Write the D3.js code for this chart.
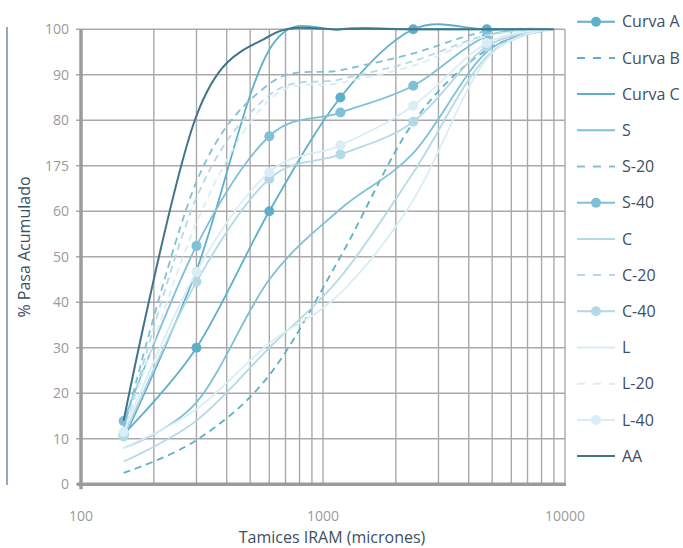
<!DOCTYPE html>
<html>
<head>
<meta charset="utf-8">
<script src="https://cdn.jsdelivr.net/npm/d3@7"></script>
<style>
    body { margin: 0; background: #fff; }
    svg { display: block; font-family: "Open Sans", sans-serif; }
</style>
</head>
<body>
<svg id="chart" width="683" height="548"></svg>
<script>
// sieve openings (microns) and % passing for each curve
var sieves = [150, 300, 600, 1180, 2360, 4750, 9000];

var curvaA = [11, 30, 60, 85, 100, 100, 100];
var curvaB = [2.5, 9.7, 24, 50, 79.5, 95.5, 100];
var curvaC = [10, 47, 95.5, 100, 100, 100, 100];
var arenaS = [8, 18, 45, 60.5, 72.8, 95, 100];
var arenaS20 = [12, 66.5, 88, 91, 94.7, 99.6, 100];
var arenaS40 = [13.9, 52.4, 76.5, 81.7, 87.6, 98.5, 100];
var arenaC = [5, 14, 30, 45.5, 68.5, 94, 100];
var arenaC20 = [11, 63, 85.5, 89, 93, 98.7, 100];
var arenaC40 = [10.5, 44.5, 67.1, 72.5, 79.7, 96.2, 100];
var arenaL = [8, 16.5, 31, 42, 62.5, 93.5, 100];
var arenaL20 = [11, 57.5, 84.5, 88.2, 92, 98.5, 100];
var arenaL40 = [11.5, 46.7, 68.6, 74.5, 83.2, 97, 100];
var arenaAA = [14, 81, 98.5, 100, 100, 100, 100];

var seriesNames = ["Curva A", "Curva B", "Curva C", "S", "S-20", "S-40", "C", "C-20", "C-40", "L", "L-20", "L-40", "AA"];
var seriesValues = [curvaA, curvaB, curvaC, arenaS, arenaS20, arenaS40, arenaC, arenaC20, arenaC40, arenaL, arenaL20, arenaL40, arenaAA];

var yTicks = [0, 10, 20, 30, 40, 50, 60, 70, 80, 90, 100];
var yTickLabels = ["0", "10", "20", "30", "40", "50", "60", "175", "80", "90", "100"];
var xTickLabels = [100, 1000, 10000];

// look of each series, same order as seriesNames
var colors = ["#5fafca", "#5fafca", "#5fafca", "#80c0d6", "#80c0d6", "#80c0d6",
    "#b3d9e7", "#b3d9e7", "#b3d9e7", "#d9edf4", "#d9edf4", "#d9edf4", "#407488"];
var dashed = [false, true, false, false, true, false, false, true, false, false, true, false, false];
var marked = [true, false, false, false, false, true, false, false, true, false, false, true, false];

var series = seriesNames.map(function(name, i) {
    return {
        name: name,
        color: colors[i],
        dashed: dashed[i],
        marked: marked[i],
        points: sieves.map((s, j) => ({size: s, pct: seriesValues[i][j]}))
    };
});

var svg = d3.select("#chart");
var plotLeft = 81, plotRight = 565, plotTop = 29.3, plotBottom = 484.3;

var x = d3.scaleLog().domain([100, 10000]).range([plotLeft, plotRight]);
var y = d3.scaleLinear().domain([0, 100]).range([plotBottom, plotTop]);

var textDark = "#3d4f63";
var gridColor = "#a9a9a9";

// decorative line on the far left
svg.append("line")
    .attr("x1", 7).attr("x2", 7)
    .attr("y1", 27).attr("y2", 485)
    .attr("stroke", "#8fa9c0")
    .attr("stroke-width", 2);

var grid = svg.append("g").attr("class", "grid");

grid.selectAll("line.v").data(x.ticks()).enter().append("line")
    .attr("class", "v")
    .attr("x1", d => x(d)).attr("x2", d => x(d))
    .attr("y1", plotTop).attr("y2", plotBottom)
    .attr("stroke", gridColor)
    .attr("stroke-width", 1.4);

grid.selectAll("line.h").data(yTicks).enter().append("line")
    .attr("class", "h")
    .attr("x1", plotLeft - 5).attr("x2", plotRight)
    .attr("y1", d => y(d)).attr("y2", d => y(d))
    .attr("stroke", gridColor)
    .attr("stroke-width", 1.6);

// axis lines
svg.append("line")
    .attr("x1", plotLeft).attr("x2", plotLeft)
    .attr("y1", plotTop).attr("y2", plotBottom + 5)
    .attr("stroke", "#9b9b9b")
    .attr("stroke-width", 3.5);

svg.append("line")
    .attr("x1", plotLeft - 4).attr("x2", plotRight + 1)
    .attr("y1", plotBottom).attr("y2", plotBottom)
    .attr("stroke", "#9b9b9b")
    .attr("stroke-width", 3.5);

svg.append("g").selectAll("text").data(yTicks).enter().append("text")
    .attr("x", plotLeft - 12)
    .attr("y", d => y(d))
    .attr("dy", "0.36em")
    .attr("text-anchor", "end")
    .attr("fill", "#9a9a9a")
    .style("font-size", "14px")
    .text((d, i) => yTickLabels[i]);

svg.append("g").selectAll("text").data(xTickLabels).enter().append("text")
    .attr("x", d => x(d))
    .attr("y", 521)
    .attr("text-anchor", "middle")
    .attr("fill", "#9a9a9a")
    .style("font-size", "14px")
    .text(d => d);

svg.append("text")
    .attr("x", 332)
    .attr("y", 543)
    .attr("text-anchor", "middle")
    .attr("fill", textDark)
    .style("font-size", "16px")
    .text("Tamices IRAM (micrones)");

svg.append("text")
    .attr("transform", "translate(30,247) rotate(-90)")
    .attr("text-anchor", "middle")
    .attr("fill", textDark)
    .style("font-size", "16px")
    .text("% Pasa Acumulado");

var line = d3.line()
    .x(d => x(d.size))
    .y(d => y(d.pct))
    .curve(d3.curveCatmullRom.alpha(0));

var curves = svg.append("g").attr("class", "curves");

series.forEach(function(s) {
    var g = curves.append("g");
    g.append("path")
        .attr("d", line(s.points))
        .attr("fill", "none")
        .attr("stroke", s.color)
        .attr("stroke-width", s.name == "AA" ? 2 : 1.8)
        .attr("stroke-dasharray", s.dashed ? "7,5" : null);

    if (s.marked) {
        // no marker on the last sieve
        g.selectAll("circle").data(s.points.slice(0, -1)).enter().append("circle")
            .attr("cx", d => x(d.size))
            .attr("cy", d => y(d.pct))
            .attr("r", 5)
            .attr("fill", s.color);
    }
});

// legend
var legend = svg.append("g").attr("class", "legend");
var legendItems = legend.selectAll("g").data(series).enter().append("g")
    .attr("transform", (d, i) => `translate(577,${21.7 + i * 36.2})`);

legendItems.append("line")
    .attr("x1", 0).attr("x2", 38)
    .attr("stroke", d => d.color)
    .attr("stroke-width", 2)
    .attr("stroke-dasharray", d => d.dashed ? "8,8" : null);

legendItems.filter(d => d.marked).append("circle")
    .attr("cx", 19)
    .attr("r", 5)
    .attr("fill", d => d.color);

legendItems.append("text")
    .attr("x", 45)
    .attr("dy", "0.36em")
    .attr("fill", textDark)
    .style("font-size", "16px")
    .text(d => d.name);
</script>
</body>
</html>
